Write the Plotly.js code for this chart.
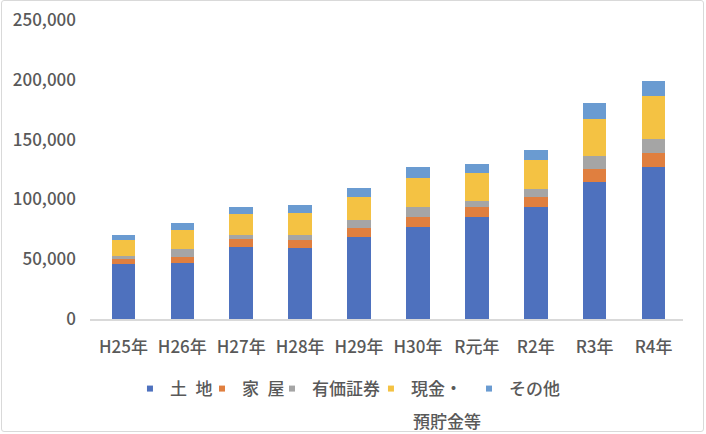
<!DOCTYPE html>
<html>
<head>
<meta charset="utf-8">
<script src="https://cdn.plot.ly/plotly-3.0.1.min.js"></script>
<style>
html,body{margin:0;padding:0;background:#fff;}
#wrap{position:relative;width:706px;height:434px;}
#chart{width:706px;height:434px;}
#frame{position:absolute;left:1px;top:0px;width:701px;height:430px;border:1.5px solid #d9d9d9;border-radius:3px;pointer-events:none;}
</style>
</head>
<body>
<div id="wrap"><div id="chart"></div><div id="frame"></div></div>
<script>
const categories = ['H25年','H26年','H27年','H28年','H29年','H30年','R元年','R2年','R3年','R4年'];
const seriesNames = ['土\u2002地','家\u2002屋','有価証券','現金・預貯金等','その他'];
const legendLabels = ['土\u2002地','家\u2002屋','有価証券','現金・','その他'];
const legendSecondLine = '預貯金等';
const land       = [46400, 47000, 60400, 59600, 68800, 77200, 85600, 94000, 114900, 126900];
const house      = [3900, 5000, 6500, 6700, 7500, 8400, 8400, 8400, 10900, 12300];
const securities = [2500, 6700, 3600, 3600, 6700, 8400, 5000, 6700, 10100, 10900];
const cash       = [13400, 15900, 17600, 19000, 19300, 23500, 22700, 23500, 31000, 36100];
const other      = [4200, 5900, 5900, 6700, 7500, 9200, 7500, 8400, 13400, 12600];
const yTicks = [0, 50000, 100000, 150000, 200000, 250000];

const colors = ['#4E71BE','#E07F3F','#A5A5A5','#F4C243','#6A9BD1'];
const values = [land, house, securities, cash, other];
const legendIds = ['legend','legend2','legend3','legend4','legend5'];
const legendX = [0.0674, 0.1889, 0.3069, 0.4738, 0.6391];

const font = "'Noto Sans CJK JP', 'Noto Sans', sans-serif";
const textColor = '#595959';

const traces = [];
values.forEach((v, i) => {
  traces.push({
    type: 'bar', x: categories, y: v, name: seriesNames[i],
    marker: {color: colors[i], line: {width: 0}},
    showlegend: false, hoverinfo: 'x+y+name'
  });
});
values.forEach((v, i) => {
  traces.push({
    type: 'scatter', mode: 'markers', x: [categories[0]], y: [null],
    name: legendLabels[i], legend: legendIds[i],
    marker: {color: colors[i], symbol: 'square', size: 6},
    showlegend: true, hoverinfo: 'skip'
  });
});

const layout = {
  width: 706, height: 434,
  margin: {l: 90, r: 23, t: 20, b: 115, autoexpand: false},
  paper_bgcolor: '#ffffff', plot_bgcolor: '#ffffff',
  barmode: 'stack', bargap: 0.6,
  font: {family: font, size: 17, color: textColor, weight: 500},
  xaxis: {
    type: 'category', showline: true, linecolor: '#d9d9d9', linewidth: 1.5,
    showgrid: false, zeroline: false, ticks: '', ticklabelstandoff: 12,
    tickfont: {family: font, size: 17, color: textColor, weight: 500}, fixedrange: true
  },
  yaxis: {
    range: [0, 250000], tickvals: yTicks, tickformat: ',d',
    showgrid: false, zeroline: false, showline: false, ticks: '',
    ticklabelstandoff: 13,
    tickfont: {family: font, size: 17, color: textColor, weight: 500}, fixedrange: true
  },
  showlegend: true,
  annotations: [{
    xref: 'paper', yref: 'paper', x: 0.5413, y: -0.3378,
    xanchor: 'left', yanchor: 'middle', showarrow: false,
    text: legendSecondLine,
    font: {family: font, size: 17, color: textColor, weight: 500}
  }]
};
legendIds.forEach((id, i) => {
  layout[id] = {
    x: legendX[i], xanchor: 'left', y: -0.174, yanchor: 'top',
    orientation: 'h', valign: 'top', bgcolor: 'rgba(0,0,0,0)',
    font: {family: font, size: 17, color: textColor, weight: 500}, itemclick: false, itemdoubleclick: false
  };
});

Plotly.newPlot('chart', traces, layout, {displayModeBar: false, staticPlot: true});
</script>
</body>
</html>
